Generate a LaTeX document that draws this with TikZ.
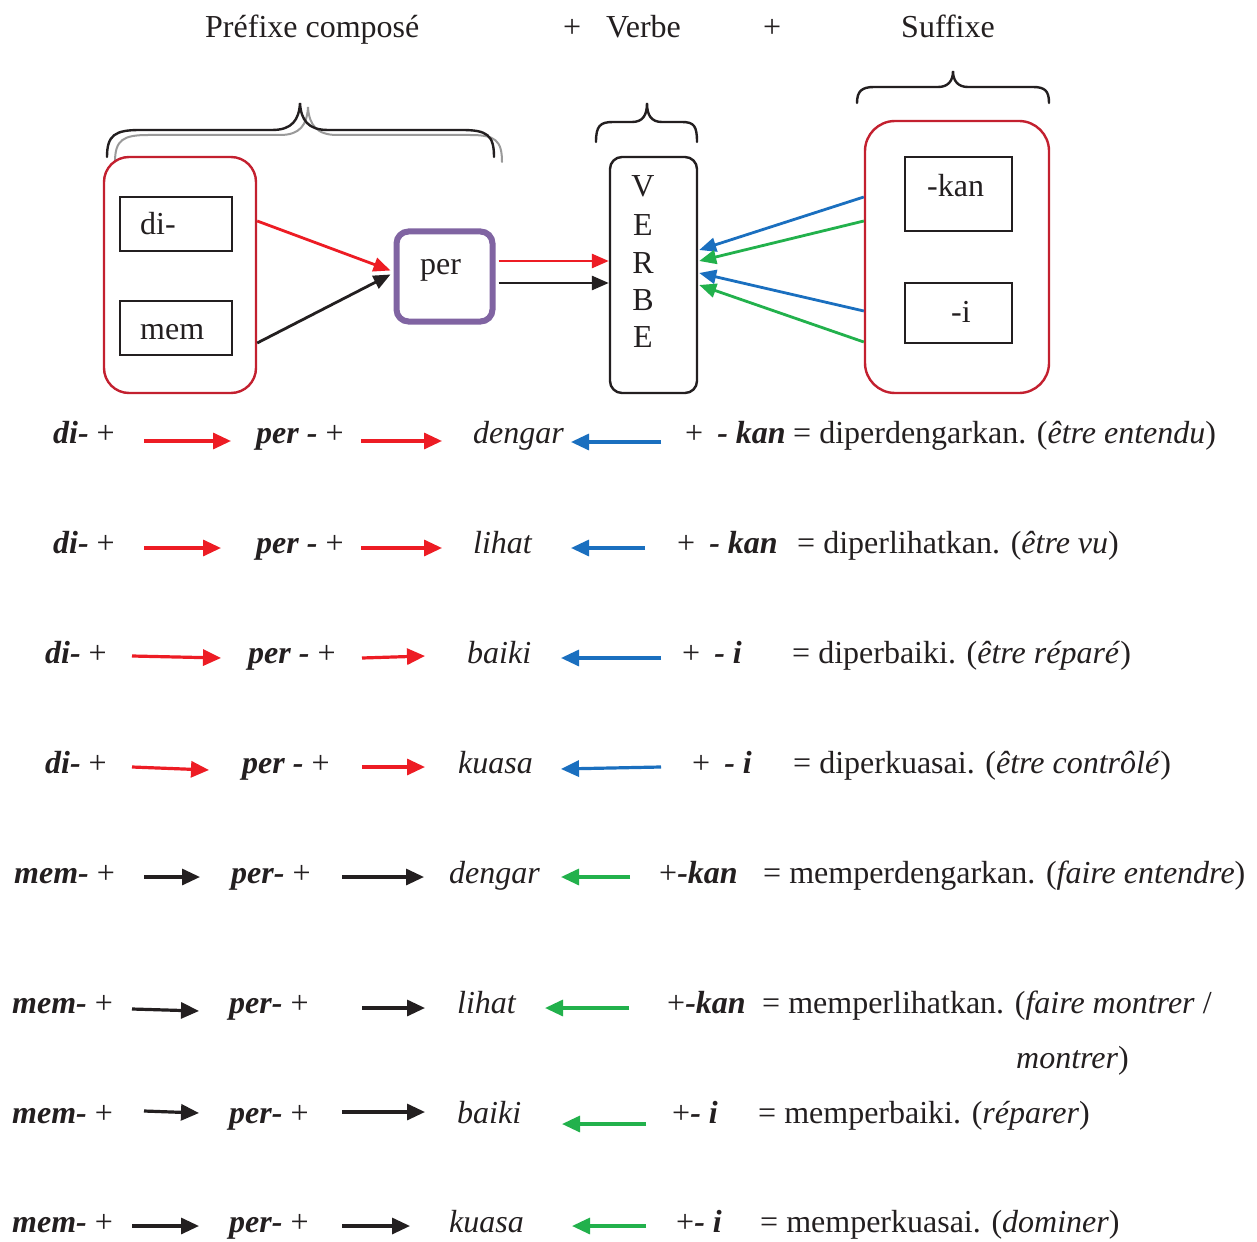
\documentclass[tikz,border=0pt]{standalone}
\usepackage{fontspec}
\setmainfont{Liberation Serif}
\usetikzlibrary{arrows.meta}

\definecolor{arRed}{HTML}{ED1C24}
\definecolor{arBlue}{HTML}{1A6FBF}
\definecolor{arGreen}{HTML}{22B14C}
\definecolor{boxRed}{HTML}{C3202F}
\definecolor{perPurple}{HTML}{8064A2}
\definecolor{braceGray}{HTML}{9A9A9A}
\definecolor{ink}{HTML}{231F20}

% bold italic affix
\newcommand\bi[1]{{\bfseries\itshape #1}}
% short arrow between two named end points
\newcommand\rowarrow[4]{%
  \coordinate (#1s) at (#3);
  \coordinate (#1e) at (#4);
  \draw[#2] (#1s) -- (#1e);}

\begin{document}
\begin{tikzpicture}[x=1pt, y=-1pt,
  font=\fontsize{32}{38}\selectfont,
  txt/.style={anchor=base west, inner sep=0pt, text=ink},
  letter/.style={anchor=base, inner sep=0pt, text=ink},
  box/.style={draw=ink, line width=2.4pt, inner sep=0pt},
  topArr/.style={-{Triangle[length=17pt,width=14pt]}, line width=2.8pt},
  rowArr/.style={-{Triangle[length=18pt,width=16pt]}, line width=3.2pt},
  redA/.style={rowArr, draw=arRed},
  blueA/.style={rowArr, draw=arBlue},
  greenA/.style={rowArr, draw=arGreen},
  blackA/.style={rowArr, draw=ink},
  bracePath/.style={line width=2.4pt, draw=ink, line cap=round},
  braceShade/.style={line width=2pt, draw=braceGray, line cap=round}]

\fill[white] (0,0) rectangle (1257,1241);
\useasboundingbox (0,0) rectangle (1257,1241);

% ---------- headings ----------
\node[txt] (hPre) at (205,38) {Préfixe composé};
\node[txt] (hPlusA) at (563,38) {+};
\node[txt] (hVerbe) at (606,38) {Verbe};
\node[txt] (hPlusB) at (763,38) {+};
\node[txt] (hSuf) at (901,38) {Suffixe};

% ---------- braces ----------
\draw[braceShade] (115,162) .. controls (115,140) and (123,135) .. (148,135) -- (280,135)
  .. controls (300,135) and (307,125) .. (308,107)
  .. controls (309,125) and (317,135) .. (337,135) -- (470,135)
  .. controls (495,135) and (502,140) .. (502,162);
\draw[bracePath] (107,157) .. controls (107,135) and (115,130) .. (140,130) -- (272,130)
  .. controls (292,130) and (299,120) .. (300,103)
  .. controls (301,120) and (308,130) .. (328,130) -- (462,130)
  .. controls (487,130) and (494,135) .. (494,157);
\draw[bracePath] (596,142) .. controls (596,126) and (600,122) .. (613,122) -- (632,122)
  .. controls (643,122) and (647,115) .. (647,103)
  .. controls (647,115) and (651,122) .. (662,122) -- (682,122)
  .. controls (694,122) and (697,126) .. (697,142);
\draw[bracePath] (857,103) .. controls (857,91) and (862,87) .. (874,87) -- (938,87)
  .. controls (948,87) and (953,81) .. (953,71)
  .. controls (953,81) and (958,87) .. (968,87) -- (1033,87)
  .. controls (1045,87) and (1049,91) .. (1049,103);

% ---------- boxes ----------
\node[box, draw=boxRed, rounded corners=25pt, minimum width=152pt, minimum height=236pt] (pre) at (180,275) {};
\node[box, minimum width=112pt, minimum height=54pt] (di) at (176,224) {};
\node[txt] (diTxt) at (140,235) {di-};
\node[box, minimum width=112pt, minimum height=54pt] (mem) at (176,328) {};
\node[txt] (memTxt) at (140,339) {mem};

\node[box, draw=perPurple, line width=6pt, rounded corners=12pt, minimum width=96pt, minimum height=90pt] (per) at (444.5,276.5) {};
\node[txt] (perTxt) at (420,274) {per};

\node[box, rounded corners=12pt, minimum width=87pt, minimum height=236pt] (verbe) at (653.5,275) {};
\node[letter] (vV) at (643,197) {V};
\node[letter] (vE) at (643,236) {E};
\node[letter] (vR) at (643,273) {R};
\node[letter] (vB) at (643,310) {B};
\node[letter] (vF) at (643,347) {E};

\node[box, draw=boxRed, rounded corners=30pt, minimum width=184pt, minimum height=272pt] (suf) at (957,257) {};
\node[box, minimum width=107pt, minimum height=74pt] (kan) at (958.5,194) {};
\node[txt] (kanTxt) at (927,197) {-kan};
\node[box, minimum width=107pt, minimum height=60pt] (ii) at (958.5,313) {};
\node[txt] (iTxt) at (951,322) {-i};

% ---------- connectors of the scheme ----------
\draw[topArr, draw=arRed] ([yshift=54pt]pre.east) -- ([xshift=-3pt,yshift=6pt]per.west);
\draw[topArr, draw=ink] ([yshift=-68pt]pre.east) -- ([xshift=-3pt,yshift=2pt]per.west);
\draw[topArr, draw=arRed] ([xshift=3pt,yshift=15.5pt]per.east) -- ([yshift=14pt]verbe.west);
\draw[topArr, draw=ink] ([xshift=3pt,yshift=-6.5pt]per.east) -- ([yshift=-8pt]verbe.west);
\draw[topArr, draw=arBlue] ([yshift=60pt]suf.west) -- ([xshift=1pt,yshift=25pt]verbe.east);
\draw[topArr, draw=arGreen] ([yshift=36pt]suf.west) -- ([xshift=1pt,yshift=14pt]verbe.east);
\draw[topArr, draw=arBlue] ([yshift=-54pt]suf.west) -- ([xshift=1pt,yshift=2pt]verbe.east);
\draw[topArr, draw=arGreen] ([yshift=-85pt]suf.west) -- ([xshift=1pt,yshift=-10pt]verbe.east);

% ---------- row 1 ----------
\node[txt] (aPre) at (53,443) {\bi{di-} +};
\rowarrow{aA}{redA}{144,441}{231,441}
\node[txt] (aPer) at (256,443) {\bi{per -} +};
\rowarrow{aB}{redA}{361,441}{442,441}
\node[txt] (aVerb) at (473,443) {\itshape dengar};
\rowarrow{aC}{blueA}{661,442}{571,442}
\node[txt] (aSuf) at (685,443) {+\hspace{14pt}\bi{- kan}};
\node[txt] (aRes) at (793,443) {= diperdengarkan. (\textit{être entendu})};

% ---------- row 2 ----------
\node[txt] (bPre) at (53,553) {\bi{di-} +};
\rowarrow{bA}{redA}{144,548}{221,548}
\node[txt] (bPer) at (256,553) {\bi{per -} +};
\rowarrow{bB}{redA}{361,548}{442,548}
\node[txt] (bVerb) at (473,553) {\itshape lihat};
\rowarrow{bC}{blueA}{645,548}{571,548}
\node[txt] (bSuf) at (677,553) {+\hspace{14pt}\bi{- kan}};
\node[txt] (bRes) at (797,553) {= diperlihatkan. (\textit{être vu})};

% ---------- row 3 ----------
\node[txt] (cPre) at (45,663) {\bi{di-} +};
\rowarrow{cA}{redA}{132,656}{221,658}
\node[txt] (cPer) at (248,663) {\bi{per -} +};
\rowarrow{cB}{redA}{362,658}{425,656}
\node[txt] (cVerb) at (467,663) {\itshape baiki};
\rowarrow{cC}{blueA}{661,658}{561,658}
\node[txt] (cSuf) at (682,663) {+\hspace{14pt}\bi{- i}};
\node[txt] (cRes) at (792,663) {= diperbaiki. (\textit{être réparé})};

% ---------- row 4 ----------
\node[txt] (dPre) at (45,773) {\bi{di-} +};
\rowarrow{dA}{redA}{132,767}{209,770}
\node[txt] (dPer) at (242,773) {\bi{per -} +};
\rowarrow{dB}{redA}{362,767}{425,767}
\node[txt] (dVerb) at (458,773) {\itshape kuasa};
\rowarrow{dC}{blueA}{661,767}{561,769}
\node[txt] (dSuf) at (692,773) {+\hspace{14pt}\bi{- i}};
\node[txt] (dRes) at (793,773) {= diperkuasai. (\textit{être contrôlé})};

% ---------- row 5 ----------
\node[txt] (ePre) at (14,883) {\bi{mem-} +};
\rowarrow{eA}{blackA}{144,877}{200,877}
\node[txt] (ePer) at (231,883) {\bi{per-} +};
\rowarrow{eB}{blackA}{342,877}{424,877}
\node[txt] (eVerb) at (449,883) {\itshape dengar};
\rowarrow{eC}{greenA}{630,877}{561,877}
\node[txt] (eSuf) at (659,883) {+\bi{-kan}};
\node[txt] (eRes) at (763,883) {= memperdengarkan. (\textit{faire entendre})};

% ---------- row 6 ----------
\node[txt] (fPre) at (12,1013) {\bi{mem-} +};
\rowarrow{fA}{blackA}{132,1009}{199,1011}
\node[txt] (fPer) at (229,1013) {\bi{per-} +};
\rowarrow{fB}{blackA}{362,1008}{425,1008}
\node[txt] (fVerb) at (457,1013) {\itshape lihat};
\rowarrow{fC}{greenA}{629,1008}{545,1008}
\node[txt] (fSuf) at (667,1013) {+\bi{-kan}};
\node[txt] (fRes) at (762,1013) {= memperlihatkan. (\textit{faire montrer} /};
\node[txt] (fResB) at (1016,1068) {\textit{montrer})};

% ---------- row 7 ----------
\node[txt] (gPre) at (12,1123) {\bi{mem-} +};
\rowarrow{gA}{blackA}{144,1111}{199,1113}
\node[txt] (gPer) at (229,1123) {\bi{per-} +};
\rowarrow{gB}{blackA}{342,1112}{425,1112}
\node[txt] (gVerb) at (457,1123) {\itshape baiki};
\rowarrow{gC}{greenA}{646,1124}{562,1124}
\node[txt] (gSuf) at (672,1123) {+\bi{- i}};
\node[txt] (gRes) at (758,1123) {= memperbaiki. (\textit{réparer})};

% ---------- row 8 ----------
\node[txt] (hPreB) at (12,1232) {\bi{mem-} +};
\rowarrow{hA}{blackA}{132,1226}{199,1226}
\node[txt] (hPer) at (229,1232) {\bi{per-} +};
\rowarrow{hB}{blackA}{342,1226}{410,1226}
\node[txt] (hVerb) at (449,1232) {\itshape kuasa};
\rowarrow{hC}{greenA}{646,1226}{572,1226}
\node[txt] (hSufB) at (676,1232) {+\bi{- i}};
\node[txt] (hRes) at (760,1232) {= memperkuasai. (\textit{dominer})};

\end{tikzpicture}
\end{document}
